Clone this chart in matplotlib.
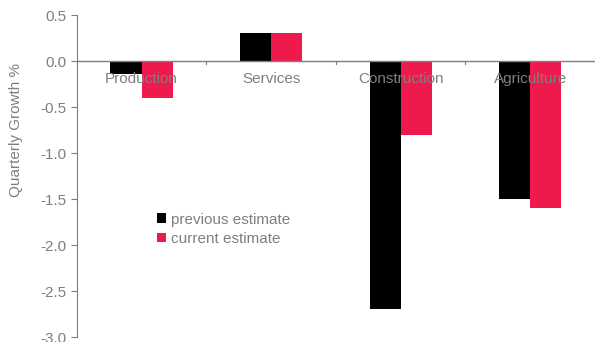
import numpy as np
import matplotlib
matplotlib.use('Agg')
import matplotlib.pyplot as plt

plt.rcParams['font.family'] = ['Liberation Sans', 'DejaVu Sans']

# datos
sectores = ['Production', 'Services', 'Construction', 'Agriculture']
previous = [-0.14, 0.3, -2.7, -1.5]
current = [-0.4, 0.3, -0.8, -1.6]

gris = '#7f7f7f'
rojo = '#ee1a4d'

fig = plt.figure(figsize=(5.95, 3.42), dpi=100)
ax = fig.add_axes([0.129, 0.0146, 0.871, 0.9415])

x = np.arange(len(sectores))
w = 0.24
ax.bar(x - w/2, previous, w, color='black', label='previous estimate')
ax.bar(x + w/2, current, w, color=rojo, label='current estimate')

ax.set_xlim(-0.5, len(sectores) - 0.5)
ax.set_ylim(-3.0, 0.5)
ax.set_yticks(np.arange(-3.0, 0.51, 0.5))
ax.set_yticklabels(['%.1f' % v for v in np.arange(-3.0, 0.51, 0.5)])
ax.tick_params(axis='y', colors=gris, labelsize=11, length=4, width=0.8, direction='out')
ax.set_ylabel('Quarterly Growth %', color=gris, fontsize=11)
ax.yaxis.set_label_coords(-0.103, 0.643)

# eje x sobre el cero
for s in ['top', 'right', 'bottom']:
    ax.spines[s].set_visible(False)
ax.spines['left'].set_color(gris)
ax.axhline(0, color=gris, lw=1)
ax.set_xticks([])
for b in np.arange(0.5, len(sectores) - 0.5, 1):
    ax.plot([b, b], [0, -0.03], color=gris, lw=0.8)
for i, s in enumerate(sectores):
    ax.text(i, -0.2, s, ha='center', va='center', color=gris, fontsize=11)

ax.legend(loc='upper left', bbox_to_anchor=(0.14, 0.41), frameon=False,
          fontsize=11, labelcolor=gris, handlelength=0.6, handleheight=0.6,
          handletextpad=0.3, labelspacing=0.35, borderpad=0)

plt.savefig('out.png', dpi=100)
